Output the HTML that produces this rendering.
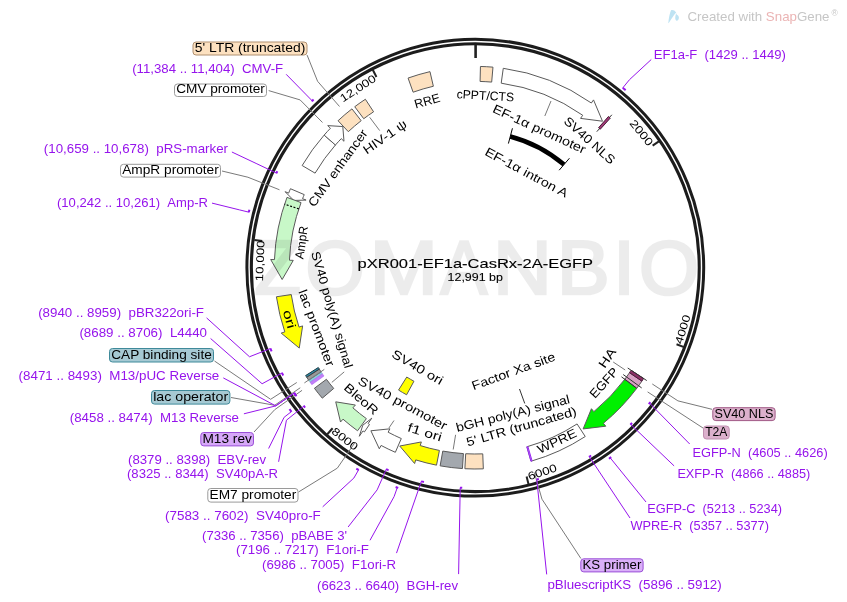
<!DOCTYPE html>
<html><head><meta charset="utf-8"><style>
html,body{margin:0;padding:0;background:#fff;overflow:hidden}
svg{display:block}
svg{will-change:transform}
text{font-family:"Liberation Sans", sans-serif}
</style></head><body>
<svg width="847" height="602" viewBox="0 0 847 602">
<rect width="847" height="602" fill="#fff"/>
<path d="M302.15,165.53 A201.3,201.3 0 0 1 324.14,135.11 L335.43,144.99 A186.3,186.3 0 0 0 315.08,173.15 Z" fill="#ffffff" stroke="#5a5a5a" stroke-width="1" stroke-linejoin="miter"/>
<path d="M324.14,135.11 A201.3,201.3 0 0 1 330.43,128.24 L327.69,125.61 L342.81,126.54 L343.99,141.27 L341.25,138.64 A186.3,186.3 0 0 0 335.43,144.99 Z" fill="#ffffff" stroke="#5a5a5a" stroke-width="1" stroke-linejoin="miter"/>
<path d="M338.06,120.72 A201.3,201.3 0 0 1 351.94,108.86 L361.16,120.69 A186.3,186.3 0 0 0 348.31,131.67 Z" fill="#fde1c0" stroke="#5a5a5a" stroke-width="1" stroke-linejoin="miter"/>
<path d="M354.74,106.72 A201.3,201.3 0 0 1 365.38,99.26 L373.59,111.81 A186.3,186.3 0 0 0 363.74,118.72 Z" fill="#fde1c0" stroke="#5a5a5a" stroke-width="1" stroke-linejoin="miter"/>
<path d="M408.07,78.06 A201.3,201.3 0 0 1 429.98,71.64 L433.37,86.25 A186.3,186.3 0 0 0 413.11,92.19 Z" fill="#fde1c0" stroke="#5a5a5a" stroke-width="1" stroke-linejoin="miter"/>
<path d="M480.45,66.46 A201.3,201.3 0 0 1 492.97,67.15 L491.68,82.09 A186.3,186.3 0 0 0 480.09,81.45 Z" fill="#fde1c0" stroke="#5a5a5a" stroke-width="1" stroke-linejoin="miter"/>
<path d="M503.27,68.31 A201.3,201.3 0 0 1 591.35,103.01 L593.53,99.90 L602.49,121.22 L580.54,118.39 L582.72,115.28 A186.3,186.3 0 0 0 501.21,83.17 Z" fill="#ffffff" stroke="#5a5a5a" stroke-width="1" stroke-linejoin="miter"/>
<line x1="596.80" y1="131.66" x2="611.84" y2="114.79" stroke="#333" stroke-width="1"/>
<path d="M608.46,116.47 A201.3,201.3 0 0 1 610.30,118.10 L600.26,129.25 A186.3,186.3 0 0 0 598.56,127.74 Z" fill="#a03a78" stroke="#3a1028" stroke-width="0.9" stroke-linejoin="miter"/>
<path d="M510.29,136.41 A135.8,135.8 0 0 1 563.98,164.59" fill="none" stroke="#000" stroke-width="4.6"/>
<line x1="508.40" y1="143.56" x2="512.44" y2="128.28" stroke="#000" stroke-width="1"/>
<line x1="559.16" y1="170.21" x2="569.44" y2="158.21" stroke="#000" stroke-width="1"/>
<path d="M290.44,188.72 A201.3,201.3 0 0 0 288.63,193.11 L285.10,191.70 L293.84,200.46 L306.09,200.07 L302.56,198.67 A186.3,186.3 0 0 1 304.24,194.61 Z" fill="#ffffff" stroke="#5a5a5a" stroke-width="1" stroke-linejoin="miter"/>
<path d="M286.99,197.37 A201.3,201.3 0 0 0 274.46,259.62 L270.67,259.47 L282.16,279.53 L293.25,260.38 L289.45,260.22 A186.3,186.3 0 0 1 301.04,202.61 Z" fill="#c8f8c8" stroke="#5a5a5a" stroke-width="1" stroke-linejoin="miter"/>
<line x1="298.82" y1="208.89" x2="284.59" y2="204.16" stroke="#000" stroke-width="1.2" stroke-dasharray="2,1.6"/>
<path d="M276.41,296.76 A201.3,201.3 0 0 0 284.81,331.91 L281.21,333.12 L299.25,348.07 L302.63,325.91 L299.03,327.12 A186.3,186.3 0 0 1 291.25,294.59 Z" fill="#ffff00" stroke="#5a5a5a" stroke-width="1" stroke-linejoin="miter"/>
<path d="M306.78,377.34 A201.3,201.3 0 0 1 305.64,375.56 L318.30,367.52 A186.3,186.3 0 0 0 319.36,369.17 Z" fill="#2e8ca6" stroke="#1e3a44" stroke-width="1" stroke-linejoin="miter"/>
<path d="M308.91,380.56 A201.3,201.3 0 0 1 306.78,377.34 L319.36,369.17 A186.3,186.3 0 0 0 321.33,372.15 Z" fill="#9a9a9a" stroke="#333" stroke-width="0.8" stroke-linejoin="miter"/>
<path d="M310.10,382.30 A201.3,201.3 0 0 1 308.91,380.56 L321.33,372.15 A186.3,186.3 0 0 0 322.43,373.76 Z" fill="#8ccfdb" stroke="#5aa8b8" stroke-width="0.4" stroke-linejoin="miter"/>
<path d="M311.82,384.74 A201.3,201.3 0 0 1 310.10,382.30 L322.43,373.76 A186.3,186.3 0 0 0 324.02,376.02 Z" fill="#c080f8" stroke="#a040f0" stroke-width="0.4" stroke-linejoin="miter"/>
<path d="M322.30,398.17 A201.3,201.3 0 0 1 314.41,388.28 L326.42,379.30 A186.3,186.3 0 0 0 333.73,388.44 Z" fill="#a3a8ae" stroke="#5a5a5a" stroke-width="1" stroke-linejoin="miter"/>
<path d="M357.56,430.76 A201.3,201.3 0 0 1 343.01,419.16 L340.50,422.02 L335.72,401.84 L355.39,405.02 L352.89,407.87 A186.3,186.3 0 0 0 366.36,418.61 Z" fill="#c8f8c8" stroke="#5a5a5a" stroke-width="1" stroke-linejoin="miter"/>
<path d="M364.43,431.90 A198.3,198.3 0 0 1 363.00,430.93 L359.31,436.28 L362.78,425.28 L371.80,418.17 L368.11,423.52 A189.3,189.3 0 0 0 369.47,424.45 Z" fill="#ffffff" stroke="#5a5a5a" stroke-width="1" stroke-linejoin="miter"/>
<path d="M395.33,452.30 A201.3,201.3 0 0 1 381.10,445.44 L379.31,448.79 L370.90,430.78 L389.92,428.84 L388.14,432.19 A186.3,186.3 0 0 0 401.31,438.55 Z" fill="#ffffff" stroke="#5a5a5a" stroke-width="1" stroke-linejoin="miter"/>
<path d="M436.50,465.17 A201.3,201.3 0 0 1 415.74,459.89 L414.61,463.52 L399.72,446.03 L421.33,441.94 L420.20,445.57 A186.3,186.3 0 0 0 439.41,450.45 Z" fill="#ffff00" stroke="#5a5a5a" stroke-width="1" stroke-linejoin="miter"/>
<path d="M462.43,468.57 A201.3,201.3 0 0 1 440.13,465.85 L442.77,451.08 A186.3,186.3 0 0 0 463.42,453.60 Z" fill="#a3a8ae" stroke="#5a5a5a" stroke-width="1" stroke-linejoin="miter"/>
<path d="M483.33,468.85 A201.3,201.3 0 0 1 464.89,468.71 L465.69,453.74 A186.3,186.3 0 0 0 482.75,453.86 Z" fill="#fde1c0" stroke="#5a5a5a" stroke-width="1" stroke-linejoin="miter"/>
<path d="M585.24,436.52 A201.3,201.3 0 0 1 531.09,461.20 L526.95,446.78 A186.3,186.3 0 0 0 577.07,423.94 Z" fill="#ffffff" stroke="#5a5a5a" stroke-width="1" stroke-linejoin="miter"/>
<path d="M532.10,460.91 A201.3,201.3 0 0 1 530.92,461.25 L526.79,446.83 A186.3,186.3 0 0 0 527.89,446.51 Z" fill="#c080ff" stroke="#9a2cf0" stroke-width="1" stroke-linejoin="miter"/>
<path d="M636.79,388.28 A201.3,201.3 0 0 1 603.37,423.25 L605.78,426.19 L583.13,428.93 L591.44,408.72 L593.85,411.66 A186.3,186.3 0 0 0 624.78,379.30 Z" fill="#00f000" stroke="#5a5a5a" stroke-width="1" stroke-linejoin="miter"/>
<path d="M641.89,381.14 A201.3,201.3 0 0 1 636.79,388.28 L624.78,379.30 A186.3,186.3 0 0 0 629.50,372.68 Z" fill="#d8a0c4" stroke="#5a5a5a" stroke-width="1" stroke-linejoin="miter"/>
<path d="M643.65,378.51 A201.3,201.3 0 0 1 641.89,381.14 L629.50,372.68 A186.3,186.3 0 0 0 631.13,370.25 Z" fill="#8b2f66" stroke="#4a1a38" stroke-width="1" stroke-linejoin="miter"/>
<line x1="627.71" y1="368.00" x2="646.74" y2="380.55" stroke="#333" stroke-width="1"/>
<line x1="623.19" y1="374.54" x2="641.66" y2="387.91" stroke="#333" stroke-width="1"/>
<line x1="621.49" y1="376.84" x2="636.55" y2="388.10" stroke="#333" stroke-width="1"/>
<path d="M406.60,394.78 A144.6,144.6 0 0 1 398.55,390.06 L406.75,377.03 A129.2,129.2 0 0 0 413.95,381.24 Z" fill="#ffff00" stroke="#5a5a5a" stroke-width="1" stroke-linejoin="miter"/>
<line x1="519.51" y1="389.00" x2="524.75" y2="403.48" stroke="#333" stroke-width="1"/>
<circle cx="475.3" cy="267.7" r="226.15" fill="none" stroke="#1c1c1c" stroke-width="7.5"/>
<circle cx="475.3" cy="267.7" r="226.2" fill="none" stroke="#fff" stroke-width="1.4"/>
<line x1="475.60" y1="58.00" x2="475.60" y2="44.70" stroke="#222" stroke-width="2.6"/>
<line x1="652.62" y1="145.68" x2="659.21" y2="141.14" stroke="#222" stroke-width="2.0"/>
<line x1="676.53" y1="344.21" x2="684.00" y2="347.06" stroke="#222" stroke-width="2.0"/>
<line x1="526.63" y1="476.56" x2="528.53" y2="484.33" stroke="#222" stroke-width="2.0"/>
<line x1="332.60" y1="428.25" x2="327.28" y2="434.22" stroke="#222" stroke-width="2.0"/>
<line x1="262.26" y1="241.07" x2="254.32" y2="240.08" stroke="#222" stroke-width="2.0"/>
<line x1="376.45" y1="76.93" x2="372.76" y2="69.83" stroke="#222" stroke-width="2.0"/>
<polyline points="307.1,55.1 317.6,81.3 339.5,106.5" fill="none" stroke="#7a7a7a" stroke-width="1"/>
<polyline points="268.7,90.6 300.1,99.9 322.5,122.5" fill="none" stroke="#7a7a7a" stroke-width="1"/>
<polyline points="222.00,171.00 247.92,177.23 279.51,189.79" fill="none" stroke="#7a7a7a" stroke-width="1"/>
<polyline points="214.50,361.00 270.61,399.30 296.78,382.50" fill="none" stroke="#7a7a7a" stroke-width="1"/>
<polyline points="231.00,397.50 274.68,405.27 300.26,387.76" fill="none" stroke="#7a7a7a" stroke-width="1"/>
<polyline points="254.00,432.00 274.71,409.68 302.06,390.34" fill="none" stroke="#7a7a7a" stroke-width="1"/>
<polyline points="298.50,492.00 337.33,468.13 354.65,443.03" fill="none" stroke="#7a7a7a" stroke-width="1"/>
<polyline points="580.90,558.50 541.97,499.17 534.31,472.45" fill="none" stroke="#7a7a7a" stroke-width="1"/>
<polyline points="712.00,409.30 677.92,400.85 652.27,383.97" fill="none" stroke="#7a7a7a" stroke-width="1"/>
<polyline points="703,428 647.6,391.9" fill="none" stroke="#7a7a7a" stroke-width="1"/>
<line x1="369.7" y1="117.3" x2="379.7" y2="130.6" stroke="#7a7a7a" stroke-width="1"/>
<line x1="551" y1="101" x2="544.8" y2="116" stroke="#7a7a7a" stroke-width="1"/>
<line x1="453.2" y1="449.5" x2="455.6" y2="434.8" stroke="#7a7a7a" stroke-width="1"/>
<line x1="613.2" y1="362" x2="625.2" y2="370" stroke="#7a7a7a" stroke-width="1"/>
<line x1="331.8" y1="382.4" x2="344.2" y2="371.9" stroke="#7a7a7a" stroke-width="1"/>
<line x1="324.3" y1="369.4" x2="304.4" y2="382.9" stroke="#7a7a7a" stroke-width="1"/>
<line x1="394" y1="420.5" x2="388.9" y2="428" stroke="#7a7a7a" stroke-width="1"/>
<polyline points="286.20,74.30 305.58,94.08 312.23,100.87" fill="none" stroke="#9614ec" stroke-width="1"/>
<path d="M311.71,101.38 A233.5,233.5 0 0 1 313.60,99.54" fill="none" stroke="#9614ec" stroke-width="2.0"/>
<polyline points="231.90,152.00 256.11,163.43 276.43,173.09" fill="none" stroke="#9614ec" stroke-width="1"/>
<path d="M276.30,173.36 A220.5,220.5 0 0 1 277.33,171.21" fill="none" stroke="#9614ec" stroke-width="2.0"/>
<polyline points="212.00,203.10 239.57,209.90 248.80,212.16" fill="none" stroke="#9614ec" stroke-width="1"/>
<path d="M248.75,212.36 A233.5,233.5 0 0 1 249.44,209.63" fill="none" stroke="#9614ec" stroke-width="2.0"/>
<polyline points="206.60,317.90 249.51,356.76 270.44,348.51" fill="none" stroke="#9614ec" stroke-width="1"/>
<path d="M271.61,351.41 A220.5,220.5 0 0 1 270.37,348.33" fill="none" stroke="#9614ec" stroke-width="2.0"/>
<polyline points="210.60,338.50 262.11,383.76 281.88,373.01" fill="none" stroke="#9614ec" stroke-width="1"/>
<path d="M283.23,375.47 A220.5,220.5 0 0 1 281.78,372.85" fill="none" stroke="#9614ec" stroke-width="2.0"/>
<polyline points="223.30,377.90 275.72,405.90 294.23,393.10" fill="none" stroke="#9614ec" stroke-width="1"/>
<path d="M295.66,395.15 A220.5,220.5 0 0 1 294.10,392.91" fill="none" stroke="#9614ec" stroke-width="2.0"/>
<polyline points="243.90,413.80 275.72,405.90 294.23,393.10" fill="none" stroke="#9614ec" stroke-width="1"/>
<path d="M296.47,396.28 A220.5,220.5 0 0 1 294.12,392.94" fill="none" stroke="#9614ec" stroke-width="2.0"/>
<polyline points="268.60,448.50 284.11,417.31 291.36,411.64" fill="none" stroke="#9614ec" stroke-width="1"/>
<path d="M291.49,411.80 A233.8,233.8 0 0 1 289.45,409.15" fill="none" stroke="#9614ec" stroke-width="2.0"/>
<polyline points="278.60,461.80 286.43,420.23 303.95,406.11" fill="none" stroke="#9614ec" stroke-width="1"/>
<path d="M305.09,407.51 A220.5,220.5 0 0 1 303.59,405.66" fill="none" stroke="#9614ec" stroke-width="2.0"/>
<polyline points="322.70,506.80 353.88,478.02 358.59,469.88" fill="none" stroke="#9614ec" stroke-width="1"/>
<path d="M358.76,469.98 A233.6,233.6 0 0 1 356.30,468.54" fill="none" stroke="#9614ec" stroke-width="2.0"/>
<polyline points="348.10,527.00 377.15,489.86 386.27,469.29" fill="none" stroke="#9614ec" stroke-width="1"/>
<path d="M388.59,470.31 A220.5,220.5 0 0 1 386.09,469.21" fill="none" stroke="#9614ec" stroke-width="2.0"/>
<polyline points="370.00,540.30 394.09,496.62 397.31,487.58" fill="none" stroke="#9614ec" stroke-width="1"/>
<path d="M398.23,487.90 A233.4,233.4 0 0 1 395.62,486.97" fill="none" stroke="#9614ec" stroke-width="2.0"/>
<line x1="396.50" y1="553.10" x2="421.32" y2="481.42" stroke="#9614ec" stroke-width="1"/>
<path d="M423.98,482.07 A220.5,220.5 0 0 1 421.14,481.37" fill="none" stroke="#9614ec" stroke-width="2.0"/>
<line x1="458.60" y1="574.10" x2="460.22" y2="487.66" stroke="#9614ec" stroke-width="1"/>
<path d="M462.22,487.79 A220.5,220.5 0 0 1 460.03,487.65" fill="none" stroke="#9614ec" stroke-width="2.0"/>
<line x1="546.70" y1="574.40" x2="536.75" y2="479.55" stroke="#9614ec" stroke-width="1"/>
<path d="M538.82,478.94 A220.5,220.5 0 0 1 536.56,479.61" fill="none" stroke="#9614ec" stroke-width="2.0"/>
<line x1="630.00" y1="518.00" x2="589.30" y2="456.63" stroke="#9614ec" stroke-width="1"/>
<path d="M591.14,455.51 A220.5,220.5 0 0 1 589.00,456.80" fill="none" stroke="#9614ec" stroke-width="2.0"/>
<line x1="646.00" y1="502.00" x2="610.24" y2="457.86" stroke="#9614ec" stroke-width="1"/>
<path d="M611.20,457.18 A233.0,233.0 0 0 1 608.94,458.77" fill="none" stroke="#9614ec" stroke-width="2.0"/>
<line x1="674.10" y1="465.90" x2="630.70" y2="424.43" stroke="#9614ec" stroke-width="1"/>
<path d="M632.09,423.04 A220.5,220.5 0 0 1 630.37,424.76" fill="none" stroke="#9614ec" stroke-width="2.0"/>
<line x1="689.70" y1="444.00" x2="649.59" y2="403.15" stroke="#9614ec" stroke-width="1"/>
<path d="M650.39,402.12 A220.5,220.5 0 0 1 648.79,404.18" fill="none" stroke="#9614ec" stroke-width="2.0"/>
<polyline points="651.25,59.50 629.51,79.66 622.86,87.78" fill="none" stroke="#9614ec" stroke-width="1"/>
<path d="M622.70,87.65 A232.5,232.5 0 0 1 625.67,90.12" fill="none" stroke="#9614ec" stroke-width="2.0"/>
<text x="0" y="0" font-size="11.0" fill="#000" text-anchor="middle" textLength="40.5" lengthAdjust="spacingAndGlyphs" transform="translate(357.80 88.20) rotate(326.72) translate(0 3.96)">12,000</text>
<text x="0" y="0" font-size="11.0" fill="#000" text-anchor="middle" textLength="30" lengthAdjust="spacingAndGlyphs" transform="translate(641.60 132.60) rotate(50.86) translate(0 3.96)">2000</text>
<text x="0" y="0" font-size="11.0" fill="#000" text-anchor="middle" textLength="30" lengthAdjust="spacingAndGlyphs" transform="translate(682.50 329.30) rotate(-73.42) translate(0 3.96)">4000</text>
<text x="0" y="0" font-size="11.0" fill="#000" text-anchor="middle" textLength="30" lengthAdjust="spacingAndGlyphs" transform="translate(542.20 471.90) rotate(-18.06) translate(0 3.96)">6000</text>
<text x="0" y="0" font-size="11.0" fill="#000" text-anchor="middle" textLength="30" lengthAdjust="spacingAndGlyphs" transform="translate(345.00 438.80) rotate(37.35) translate(0 3.96)">8000</text>
<text x="0" y="0" font-size="11.0" fill="#000" text-anchor="middle" textLength="41" lengthAdjust="spacingAndGlyphs" transform="translate(259.80 260.80) rotate(271.83) translate(0 3.96)">10,000</text>
<text x="0" y="0" font-size="12.4" fill="#000" text-anchor="middle" textLength="50" lengthAdjust="spacingAndGlyphs" transform="translate(384.80 136.80) rotate(325.25) translate(0 4.46)">HIV-1 ψ</text>
<text x="0" y="0" font-size="12.4" fill="#000" text-anchor="middle" textLength="26" lengthAdjust="spacingAndGlyphs" transform="translate(427.10 100.70) rotate(343.81) translate(0 4.46)">RRE</text>
<text x="0" y="0" font-size="12.4" fill="#000" text-anchor="middle" textLength="57.6" lengthAdjust="spacingAndGlyphs" transform="translate(485.40 95.40) rotate(3.26) translate(0 4.46)">cPPT/CTS</text>
<text x="0" y="0" font-size="12.4" fill="#000" text-anchor="middle" textLength="101" lengthAdjust="spacingAndGlyphs" transform="translate(539.40 128.80) rotate(24.67) translate(0 4.46)">EF-1α promoter</text>
<text x="0" y="0" font-size="12.4" fill="#000" text-anchor="middle" textLength="64" lengthAdjust="spacingAndGlyphs" transform="translate(589.70 140.20) rotate(41.83) translate(0 4.46)">SV40 NLS</text>
<text x="0" y="0" font-size="12.4" fill="#000" text-anchor="middle" textLength="92" lengthAdjust="spacingAndGlyphs" transform="translate(526.60 172.20) rotate(28.10) translate(0 4.46)">EF-1α intron A</text>
<text x="0" y="0" font-size="12.4" fill="#000" text-anchor="middle" textLength="92" lengthAdjust="spacingAndGlyphs" transform="translate(337.70 167.80) rotate(305.92) translate(0 4.46)">CMV enhancer</text>
<text x="0" y="0" font-size="12.4" fill="#000" text-anchor="middle" textLength="33" lengthAdjust="spacingAndGlyphs" transform="translate(301.20 242.50) rotate(278.22) translate(0 4.46)">AmpR</text>
<text x="0" y="0" font-size="12.4" fill="#000" text-anchor="middle" textLength="121" lengthAdjust="spacingAndGlyphs" transform="translate(332.20 309.50) rotate(73.75) translate(0 4.46)">SV40 poly(A) signal</text>
<text x="0" y="0" font-size="12.4" fill="#000" text-anchor="middle" textLength="81" lengthAdjust="spacingAndGlyphs" transform="translate(316.70 327.90) rotate(69.25) translate(0 4.46)">lac promoter</text>
<text x="0" y="0" font-size="12.4" fill="#000" text-anchor="middle" textLength="19" lengthAdjust="spacingAndGlyphs" transform="translate(289.50 319.10) rotate(74.56) translate(0 4.46)">ori</text>
<text x="0" y="0" font-size="12.4" fill="#000" text-anchor="middle" textLength="57" lengthAdjust="spacingAndGlyphs" transform="translate(417.70 367.00) rotate(30.25) translate(0 4.46)">SV40 ori</text>
<text x="0" y="0" font-size="12.4" fill="#000" text-anchor="middle" textLength="41" lengthAdjust="spacingAndGlyphs" transform="translate(361.30 398.90) rotate(41.06) translate(0 4.46)">BleoR</text>
<text x="0" y="0" font-size="12.4" fill="#000" text-anchor="middle" textLength="99" lengthAdjust="spacingAndGlyphs" transform="translate(402.80 403.00) rotate(28.28) translate(0 4.46)">SV40 promoter</text>
<text x="0" y="0" font-size="12.4" fill="#000" text-anchor="middle" textLength="35" lengthAdjust="spacingAndGlyphs" transform="translate(424.90 432.00) rotate(17.15) translate(0 4.46)">f1 ori</text>
<text x="0" y="0" font-size="12.4" fill="#000" text-anchor="middle" textLength="88" lengthAdjust="spacingAndGlyphs" transform="translate(513.40 371.00) rotate(-20.10) translate(0 4.46)">Factor Xa site</text>
<text x="0" y="0" font-size="12.4" fill="#000" text-anchor="middle" textLength="117" lengthAdjust="spacingAndGlyphs" transform="translate(512.80 413.20) rotate(-14.34) translate(0 4.46)">bGH poly(A) signal</text>
<text x="0" y="0" font-size="12.4" fill="#000" text-anchor="middle" textLength="114" lengthAdjust="spacingAndGlyphs" transform="translate(521.40 426.40) rotate(-16.10) translate(0 4.46)">5' LTR (truncated)</text>
<text x="0" y="0" font-size="12.4" fill="#000" text-anchor="middle" textLength="42" lengthAdjust="spacingAndGlyphs" transform="translate(556.90 441.00) rotate(-25.13) translate(0 4.46)">WPRE</text>
<text x="0" y="0" font-size="12.4" fill="#000" text-anchor="middle" textLength="36" lengthAdjust="spacingAndGlyphs" transform="translate(603.80 382.60) rotate(-48.13) translate(0 4.46)">EGFP</text>
<text x="0" y="0" font-size="12.4" fill="#000" text-anchor="middle" textLength="21" lengthAdjust="spacingAndGlyphs" transform="translate(607.10 357.80) rotate(-55.58) translate(0 4.46)">HA</text>
<rect x="193.0" y="42.0" width="114.0" height="13.0" rx="3" ry="3" fill="#fde1c0" stroke="#b09070" stroke-width="1"/>
<text x="194.70" y="51.90" font-size="12.4" fill="#000" font-weight="normal" text-anchor="start" textLength="110.6" lengthAdjust="spacingAndGlyphs">5' LTR (truncated)</text>
<rect x="174.5" y="84.0" width="92" height="12.5" rx="3" ry="3" fill="#ffffff" stroke="#9a9a9a" stroke-width="1"/>
<text x="176.20" y="93.40" font-size="12.4" fill="#000" font-weight="normal" text-anchor="start" textLength="88.6" lengthAdjust="spacingAndGlyphs">CMV promoter</text>
<rect x="120.5" y="164.3" width="100" height="12.799999999999983" rx="3" ry="3" fill="#ffffff" stroke="#9a9a9a" stroke-width="1"/>
<text x="122.20" y="174.00" font-size="12.4" fill="#000" font-weight="normal" text-anchor="start" textLength="96.6" lengthAdjust="spacingAndGlyphs">AmpR promoter</text>
<rect x="109.5" y="348.5" width="104" height="13.5" rx="3" ry="3" fill="#a6c9d3" stroke="#3f8a9a" stroke-width="1"/>
<text x="111.20" y="358.90" font-size="12.4" fill="#000" font-weight="normal" text-anchor="start" textLength="100.6" lengthAdjust="spacingAndGlyphs">CAP binding site</text>
<rect x="151.5" y="390.5" width="78.4" height="13.600000000000023" rx="3" ry="3" fill="#a6c9d3" stroke="#3f8a9a" stroke-width="1"/>
<text x="153.20" y="401.00" font-size="12.4" fill="#000" font-weight="normal" text-anchor="start" textLength="75.0" lengthAdjust="spacingAndGlyphs">lac operator</text>
<rect x="200.8" y="432.5" width="52.69999999999999" height="13.399999999999977" rx="3" ry="3" fill="#d6a8f8" stroke="#9a4fd8" stroke-width="1"/>
<text x="202.50" y="442.80" font-size="12.4" fill="#000" font-weight="normal" text-anchor="start" textLength="49.29999999999999" lengthAdjust="spacingAndGlyphs">M13 rev</text>
<rect x="207.8" y="488.5" width="90.19999999999999" height="13.600000000000023" rx="3" ry="3" fill="#ffffff" stroke="#9a9a9a" stroke-width="1"/>
<text x="209.50" y="499.00" font-size="12.4" fill="#000" font-weight="normal" text-anchor="start" textLength="86.79999999999998" lengthAdjust="spacingAndGlyphs">EM7 promoter</text>
<rect x="712.8" y="407.7" width="62.30000000000007" height="12.900000000000034" rx="3" ry="3" fill="#dcb0cc" stroke="#a05a86" stroke-width="1"/>
<text x="714.50" y="417.50" font-size="12.4" fill="#000" font-weight="normal" text-anchor="start" textLength="58.90000000000007" lengthAdjust="spacingAndGlyphs">SV40 NLS</text>
<rect x="703.5" y="426.0" width="25.700000000000045" height="13.0" rx="3" ry="3" fill="#dcb0cc" stroke="#c090b0" stroke-width="1"/>
<text x="705.20" y="435.90" font-size="12.4" fill="#000" font-weight="normal" text-anchor="start" textLength="22.300000000000047" lengthAdjust="spacingAndGlyphs">T2A</text>
<rect x="580.8" y="558.8" width="62.30000000000007" height="13.100000000000023" rx="3" ry="3" fill="#dab0f8" stroke="#9a4fd8" stroke-width="1"/>
<text x="582.50" y="568.80" font-size="12.4" fill="#000" font-weight="normal" text-anchor="start" textLength="58.90000000000007" lengthAdjust="spacingAndGlyphs">KS primer</text>
<text x="132.20" y="73.40" font-size="12.4" fill="#9614ec" font-weight="normal" text-anchor="start" textLength="151.0" lengthAdjust="spacingAndGlyphs" xml:space="preserve">(11,384 .. 11,404)  CMV-F</text>
<text x="43.80" y="153.00" font-size="12.4" fill="#9614ec" font-weight="normal" text-anchor="start" textLength="184.2" lengthAdjust="spacingAndGlyphs" xml:space="preserve">(10,659 .. 10,678)  pRS-marker</text>
<text x="57.00" y="207.30" font-size="12.4" fill="#9614ec" font-weight="normal" text-anchor="start" textLength="151" lengthAdjust="spacingAndGlyphs" xml:space="preserve">(10,242 .. 10,261)  Amp-R</text>
<text x="38.20" y="317.00" font-size="12.4" fill="#9614ec" font-weight="normal" text-anchor="start" textLength="165.8" lengthAdjust="spacingAndGlyphs" xml:space="preserve">(8940 .. 8959)  pBR322ori-F</text>
<text x="79.40" y="337.40" font-size="12.4" fill="#9614ec" font-weight="normal" text-anchor="start" textLength="127.6" lengthAdjust="spacingAndGlyphs" xml:space="preserve">(8689 .. 8706)  L4440</text>
<text x="18.60" y="380.00" font-size="12.4" fill="#9614ec" font-weight="normal" text-anchor="start" textLength="200.70000000000002" lengthAdjust="spacingAndGlyphs" xml:space="preserve">(8471 .. 8493)  M13/pUC Reverse</text>
<text x="69.80" y="421.90" font-size="12.4" fill="#9614ec" font-weight="normal" text-anchor="start" textLength="169.2" lengthAdjust="spacingAndGlyphs" xml:space="preserve">(8458 .. 8474)  M13 Reverse</text>
<text x="128.00" y="464.00" font-size="12.4" fill="#9614ec" font-weight="normal" text-anchor="start" textLength="138" lengthAdjust="spacingAndGlyphs" xml:space="preserve">(8379 .. 8398)  EBV-rev</text>
<text x="127.00" y="478.00" font-size="12.4" fill="#9614ec" font-weight="normal" text-anchor="start" textLength="151" lengthAdjust="spacingAndGlyphs" xml:space="preserve">(8325 .. 8344)  SV40pA-R</text>
<text x="165.00" y="519.60" font-size="12.4" fill="#9614ec" font-weight="normal" text-anchor="start" textLength="155.8" lengthAdjust="spacingAndGlyphs" xml:space="preserve">(7583 .. 7602)  SV40pro-F</text>
<text x="202.00" y="540.00" font-size="12.4" fill="#9614ec" font-weight="normal" text-anchor="start" textLength="145" lengthAdjust="spacingAndGlyphs" xml:space="preserve">(7336 .. 7356)  pBABE 3'</text>
<text x="236.00" y="554.00" font-size="12.4" fill="#9614ec" font-weight="normal" text-anchor="start" textLength="133" lengthAdjust="spacingAndGlyphs" xml:space="preserve">(7196 .. 7217)  F1ori-F</text>
<text x="262.00" y="568.80" font-size="12.4" fill="#9614ec" font-weight="normal" text-anchor="start" textLength="134" lengthAdjust="spacingAndGlyphs" xml:space="preserve">(6986 .. 7005)  F1ori-R</text>
<text x="317.00" y="589.50" font-size="12.4" fill="#9614ec" font-weight="normal" text-anchor="start" textLength="141" lengthAdjust="spacingAndGlyphs" xml:space="preserve">(6623 .. 6640)  BGH-rev</text>
<text x="653.75" y="58.75" font-size="12.4" fill="#9614ec" font-weight="normal" text-anchor="start" textLength="132.0" lengthAdjust="spacingAndGlyphs" xml:space="preserve">EF1a-F  (1429 .. 1449)</text>
<text x="692.50" y="456.80" font-size="12.4" fill="#9614ec" font-weight="normal" text-anchor="start" textLength="135.20000000000005" lengthAdjust="spacingAndGlyphs" xml:space="preserve">EGFP-N  (4605 .. 4626)</text>
<text x="677.40" y="478.00" font-size="12.4" fill="#9614ec" font-weight="normal" text-anchor="start" textLength="132.89999999999998" lengthAdjust="spacingAndGlyphs" xml:space="preserve">EXFP-R  (4866 .. 4885)</text>
<text x="647.30" y="513.00" font-size="12.4" fill="#9614ec" font-weight="normal" text-anchor="start" textLength="134.70000000000005" lengthAdjust="spacingAndGlyphs" xml:space="preserve">EGFP-C  (5213 .. 5234)</text>
<text x="630.40" y="529.80" font-size="12.4" fill="#9614ec" font-weight="normal" text-anchor="start" textLength="138.60000000000002" lengthAdjust="spacingAndGlyphs" xml:space="preserve">WPRE-R  (5357 .. 5377)</text>
<text x="547.40" y="589.30" font-size="12.4" fill="#9614ec" font-weight="normal" text-anchor="start" textLength="174.30000000000007" lengthAdjust="spacingAndGlyphs" xml:space="preserve">pBluescriptKS  (5896 .. 5912)</text>
<text x="357.6" y="268.2" font-size="13.2" fill="#000" stroke="#000" stroke-width="0.12" textLength="235.5" lengthAdjust="spacingAndGlyphs">pXR001-EF1a-CasRx-2A-EGFP</text>
<text x="447.6" y="281.3" font-size="10.3" fill="#000" stroke="#000" stroke-width="0.1" textLength="55.3" lengthAdjust="spacingAndGlyphs">12,991 bp</text>
<g opacity="0.07" fill="#000" stroke="#000" stroke-width="2.7" stroke-linejoin="miter">
<text x="0" y="0" font-size="75.69" transform="translate(254.44 293.95) scale(1.002 1)">Z</text>
<text x="0" y="0" font-size="75.69" transform="translate(305.57 293.95) scale(1.004 1)">O</text>
<text x="0" y="0" font-size="75.69" transform="translate(369.69 293.95) scale(1.080 1)">M</text>
<text x="0" y="0" font-size="75.69" transform="translate(440.57 293.95) scale(0.927 1)">A</text>
<text x="0" y="0" font-size="75.69" transform="translate(493.12 293.95) scale(1.076 1)">N</text>
<text x="0" y="0" font-size="75.69" transform="translate(557.12 293.95) scale(1.043 1)">B</text>
<text x="0" y="0" font-size="75.69" transform="translate(613.25 293.95) scale(1.024 1)">I</text>
<text x="0" y="0" font-size="75.69" transform="translate(639.12 293.95) scale(1.019 1)">O</text>
</g>
<path d="M668.3,23 C668.8,18 669.8,13 671,10.2 C672.5,9.6 674.5,9.9 676.2,12.6 L674.6,14.2 C672.5,17 670.5,20.5 668.6,23.2 Z" fill="#bee3f3"/>
<path d="M676.2,13.3 L676.8,14.8 C678.6,15.6 679.8,17.6 678.2,20 C677,21.3 676,20.8 675.6,19.8 C675,18.2 675.2,16 676.2,13.3 Z" fill="#bee3f3"/>
<text x="687.5" y="21" font-size="12.6" fill="#c6c6c6" textLength="142" lengthAdjust="spacingAndGlyphs">Created with <tspan fill="#ebb4b4">Snap</tspan>Gene</text>
<text x="831.5" y="16" font-size="8.5" fill="#c6c6c6">®</text>
</svg></body></html>
